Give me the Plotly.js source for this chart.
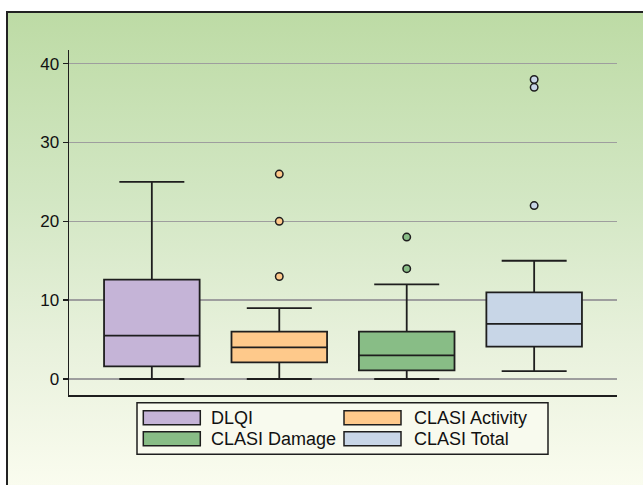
<!DOCTYPE html>
<html>
<head>
<meta charset="utf-8">
<script src="https://cdn.plot.ly/plotly-3.0.1.min.js"></script>
<style>
  html, body { margin: 0; padding: 0; width: 643px; height: 485px; overflow: hidden; background: #ffffff; }
  #frame {
    position: absolute; left: 6px; top: 11px; width: 700px; height: 474px;
    border-left: 2px solid #222; border-top: 2px solid #222;
    background: linear-gradient(to bottom, #bddba5 0%, #d3e7c4 40%, #e8f1dc 70%, #fafcef 100%);
  }
  #chart { position: absolute; left: 0; top: 0; width: 643px; height: 485px; }
</style>
</head>
<body>
<div id="frame"></div>
<div id="chart"></div>
<script>
// ---- data ----
const categories   = ['DLQI', 'CLASI Activity', 'CLASI Damage', 'CLASI Total'];
const lowerWhisker = [0, 0, 0, 1];
const q1           = [1.6, 2.1, 1.1, 4.1];
const median       = [5.5, 4, 3, 7];
const q3           = [12.6, 6, 6, 11];
const upperWhisker = [25, 9, 12, 15];
const outliers     = [[], [13, 20, 26], [14, 18], [22, 37, 38]];
const fillColors   = ['#c5b4d7', '#fec98b', '#88bd86', '#c8d6e7'];
const yTicks       = [0, 10, 20, 30, 40];

const ink = '#1e1e1e';
const FONT = 'Liberation Sans, Arial, Helvetica, sans-serif';

const traces = [];
categories.forEach((c, i) => {
  traces.push({
    type: 'box', name: c, x: [c],
    q1: [q1[i]], median: [median[i]], q3: [q3[i]],
    lowerfence: [lowerWhisker[i]], upperfence: [upperWhisker[i]],
    fillcolor: fillColors[i], line: { color: ink, width: 1.8 },
    whiskerwidth: 0.68, width: 0.75, boxpoints: false,
    showlegend: false, hoverinfo: 'skip'
  });
});
categories.forEach((c, i) => {
  if (!outliers[i].length) return;
  traces.push({
    type: 'scatter', mode: 'markers', name: c + ' outliers',
    x: outliers[i].map(() => c), y: outliers[i],
    marker: { size: 7.5, color: fillColors[i], line: { color: ink, width: 1.5 } },
    showlegend: false, hoverinfo: 'skip'
  });
});

// plot-area geometry (pixels)
const M = { l: 69, r: 26, t: 50, b: 90 };
const W = 643 - M.l - M.r, H = 485 - M.t - M.b;
const px2x = px => (px - M.l) / W;
const py2y = py => (M.t + H - py) / H;

// custom legend (2 columns, wide swatches)
const shapes = [{
  type: 'rect', xref: 'paper', yref: 'paper',
  x0: px2x(137), x1: px2x(548), y0: py2y(454.3), y1: py2y(402.7),
  line: { color: ink, width: 1.5 }, fillcolor: '#f8faee', layer: 'above'
}];
const annotations = [];
const colSwatchX = [143.3, 344], colTextX = [209, 411.5], rowTop = [410.7, 431.7];
categories.forEach((c, i) => {
  const col = i % 2, row = Math.floor(i / 2);
  shapes.push({
    type: 'rect', xref: 'paper', yref: 'paper',
    x0: px2x(colSwatchX[col]), x1: px2x(colSwatchX[col] + 57),
    y0: py2y(rowTop[row] + 14), y1: py2y(rowTop[row]),
    line: { color: ink, width: 1.5 }, fillcolor: fillColors[i], layer: 'above'
  });
  annotations.push({
    xref: 'paper', yref: 'paper', x: px2x(colTextX[col]), y: py2y(rowTop[row] + 7.5),
    xanchor: 'left', yanchor: 'middle', showarrow: false, text: c,
    font: { family: FONT, size: 18, color: '#111' }
  });
});

const layout = {
  width: 643, height: 485,
  margin: { l: M.l, r: M.r, t: M.t, b: M.b, pad: 0 },
  paper_bgcolor: 'rgba(0,0,0,0)', plot_bgcolor: 'rgba(0,0,0,0)',
  showlegend: false,
  xaxis: {
    type: 'category', categoryorder: 'array', categoryarray: categories,
    range: [-0.65, 3.65], showticklabels: false, ticks: '',
    showgrid: false, zeroline: false, showline: true, linecolor: ink, linewidth: 1.5,
    fixedrange: true
  },
  yaxis: {
    range: [-2.03, 41.74], tickmode: 'array', tickvals: yTicks,
    ticks: 'outside', ticklen: 5, tickwidth: 1.5, tickcolor: ink,
    showline: true, linecolor: ink, linewidth: 1.5,
    showgrid: true, gridcolor: '#9e9e9e', gridwidth: 1.5, zeroline: false,
    tickfont: { family: FONT, size: 17, color: '#111' }, fixedrange: true
  },
  shapes: shapes, annotations: annotations
};

Plotly.newPlot('chart', traces, layout, { staticPlot: true, displayModeBar: false });
</script>
</body>
</html>
